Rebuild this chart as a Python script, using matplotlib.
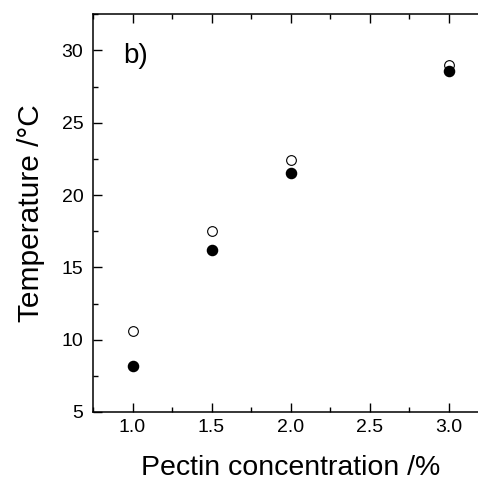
"""
Temperatura vs concentração de pectina (painel b)
"""
import matplotlib
matplotlib.use('Agg')
import matplotlib.pyplot as plt
from matplotlib.ticker import MultipleLocator

plt.rcParams['font.family'] = ['Liberation Sans', 'DejaVu Sans']

# dados
pectin = [1.0, 1.5, 2.0, 3.0]
temp_open = [10.6, 17.5, 22.4, 29.0]
temp_filled = [8.2, 16.2, 21.5, 28.6]

W, H = 478, 484
fig = plt.figure(figsize=(W / 100, H / 100), dpi=100)
# eixo x continua para além da borda direita da figura (recortada)
ax = fig.add_axes([93 / W, 1 - 412 / H, (488 - 93) / W, (412 - 14.3) / H])

ax.plot(pectin, temp_open, 'o', markersize=7, markerfacecolor='white',
        markeredgecolor='black', markeredgewidth=0.8, linestyle='none')
ax.plot(pectin, temp_filled, 'o', markersize=7.3, color='black', linestyle='none')

ax.set_xlim(0.75, 3.25)
ax.set_ylim(5, 32.5)
ax.xaxis.set_major_locator(MultipleLocator(0.5))
ax.xaxis.set_minor_locator(MultipleLocator(0.25))
ax.yaxis.set_major_locator(MultipleLocator(5))
ax.yaxis.set_minor_locator(MultipleLocator(2.5))

ax.tick_params(which='both', direction='in', top=True, right=False,
               width=1.0, labelsize=14)
ax.tick_params(which='major', length=6.5)
ax.tick_params(axis='x', which='major', pad=5)
ax.tick_params(axis='y', which='major', pad=7)
ax.tick_params(which='minor', length=3.5)
for s in ax.spines.values():
    s.set_linewidth(1.1)

ax.set_xlabel('Pectin concentration /%', fontsize=20.5, labelpad=14)
ax.set_ylabel('Temperature /°C', fontsize=21.5, labelpad=12)
ax.text(0.94, 29.15, 'b)', fontsize=20, ha='left', va='baseline')

plt.savefig('out.png', dpi=100)
